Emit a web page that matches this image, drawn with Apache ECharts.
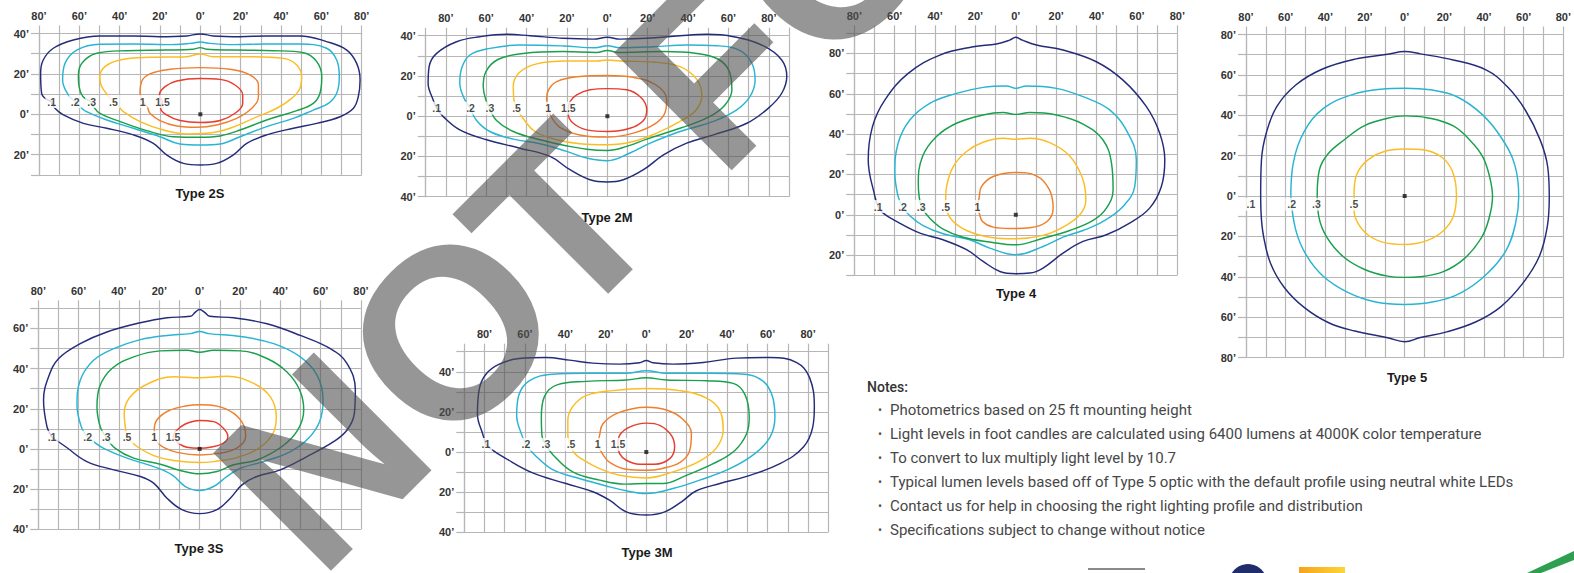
<!DOCTYPE html>
<html>
<head>
<meta charset="utf-8">
<script src="https://cdn.jsdelivr.net/npm/echarts@6/dist/echarts.min.js"></script>
<style>
  html, body { margin: 0; padding: 0; background: #ffffff; }
  #chart { width: 1574px; height: 573px; }
</style>
</head>
<body>
<div id="chart"></div>
<script>
// Iso-footcandle levels shared by every optic type
const levelNames = ['.1', '.2', '.3', '.5', '1', '1.5'];
const levelColors = ['#242c7a', '#29b4d3', '#18a04c', '#fbbd22', '#f07f2c', '#e73c2e'];

// ---- Type 2S contours (feet) ----
const type2S_01 = [[-74,6.3],[-78.7,10.4],[-79.2,20.3],[-77.9,26.9],[-72.9,32.7],[-63,36.8],[-49.8,38.8],[-33.2,38.8],[-20,38.4],[-6.8,38.8],[0,39.8],[6.4,38.8],[19.7,38.4],[32.9,38.8],[49.4,38.8],[62.6,36],[72.6,31.8],[77.5,25.2],[79.2,17],[78.3,8.7],[75.9,3],[69.3,-1.2],[57.7,-4.5],[46.1,-6.9],[32.9,-10.2],[23,-14.4],[16.4,-20.1],[8.1,-24.3],[0,-25.1],[-8.4,-24.3],[-16.7,-20.1],[-23.3,-14.4],[-33.2,-10.2],[-46.4,-6.9],[-58,-4.5],[-67.9,-0.3],[-72.1,3]];
const type2S_02 = [[-62,6.3],[-65.5,9.6],[-68.3,17],[-67.1,25.2],[-61.3,31.8],[-49.8,34.7],[-33.2,34.8],[-16.7,34.5],[-5.1,35.1],[0,35.8],[4.8,35.1],[16.4,34.5],[32.9,34.8],[49.4,34.8],[62.6,32.7],[67.6,26.9],[68.9,18.6],[67.6,10.4],[63.5,5.4],[56,2.1],[46.1,-2],[32.9,-6.1],[19.7,-11.1],[9.8,-14.7],[0,-15.2],[-10.1,-14.7],[-20,-11.1],[-33.2,-6.9],[-46.4,-2.8],[-56.4,1.3],[-59.7,3.8]];
const type2S_03 = [[-54,6.3],[-58.8,9.6],[-60.5,18.6],[-58.8,25.2],[-51.4,30.2],[-36.5,31.5],[-16.7,31.8],[-3.5,32.2],[0,33],[3.1,32.2],[16.4,31.8],[36.2,31.5],[51.1,30.5],[57.7,26.1],[60.2,18.6],[59.3,10.4],[56,5.4],[47.8,1.8],[32.9,-2.8],[19.7,-7.8],[9.8,-10.7],[0,-11.4],[-13.4,-11.1],[-26.6,-8.1],[-39.8,-3.6],[-49.8,0.5],[-53,3.8]];
const type2S_05 = [[-43,6.3],[-48.9,13.7],[-49.8,18.6],[-47.3,23.6],[-39.8,26.9],[-25,28.2],[-6.8,28.5],[0,29.9],[6.4,28.5],[24.6,28.5],[41.2,27.7],[47.8,24.4],[50.2,18.6],[49.4,12.9],[45.3,7.9],[37.9,3],[26.3,-2],[14.7,-6.9],[3.1,-9.4],[-6.8,-9.7],[-18.3,-7.8],[-29.9,-3.6],[-38.2,1.3],[-40.7,4.1]];
const type2S_10 = [[-28.6,6.3],[-29.9,10.4],[-29.1,16.2],[-25,20],[-15,22.3],[0,23.1],[14.7,22.3],[24.6,19.5],[28.8,14.5],[28.8,8.7],[25.5,3],[18,-2],[8.1,-5.3],[-1.8,-6.4],[-11.7,-5.8],[-20,-3.1],[-25,0.5],[-26.3,3.5]];
const type2S_15 = [[-18.7,6.3],[-20.3,9.6],[-17.5,13.7],[-11.7,16.5],[0,17.7],[9.8,17.3],[17.2,14.5],[21,9.6],[21,5.4],[17.2,0.5],[9.8,-3.1],[0,-4.1],[-10.1,-3.1],[-16.7,-0.3],[-19.7,3]];
const type2S_labelAt = [[-73.7,6.3],[-62.1,6.3],[-53.9,6.3],[-43.1,6.3],[-28.6,6.3],[-18.7,6.3]];

// ---- Type 2M contours ----
const type2M_01 = [[-84.6,4],[-86.3,8.1],[-88.8,16.4],[-88.3,24.6],[-84.6,31.2],[-74.7,37],[-63.1,39.5],[-49.9,40.7],[-38.3,40],[-21.8,38.7],[-6.9,38.3],[0,39.2],[6.3,38.3],[19.5,38.7],[36,40],[49.3,40.7],[62.5,39.5],[77.4,34.9],[86.4,27.9],[88.9,19.7],[86.4,11.4],[79.8,4],[69.1,-3.5],[52.6,-9.3],[39.3,-13.4],[27.8,-19.2],[17.9,-26.6],[7.9,-31.6],[0,-32.7],[-8.6,-31.6],[-18.5,-26.6],[-28.4,-20],[-43.3,-15.9],[-59.8,-11.7],[-73.1,-6.8],[-81.3,-0.2]];
const type2M_02 = [[-67.8,4],[-70.6,8.1],[-73.1,16.4],[-72.2,23.8],[-68.1,30.4],[-58.2,33.7],[-43.3,35.4],[-21.8,34.9],[-6.1,34],[0,35],[6.3,34],[22.8,34.5],[39.3,35.4],[54.2,35],[65.8,32.6],[71.6,26.3],[73.2,18],[70.7,9.8],[64.1,3.1],[52.6,-2.6],[36,-7.6],[21.2,-13.4],[11.2,-18.3],[0,-22.1],[-10.2,-20.8],[-20.2,-17.5],[-33.4,-13.7],[-46.6,-11.4],[-58.2,-7.6],[-64.8,-2.1]];
const type2M_03 = [[-58.2,4],[-60.2,8.1],[-61.5,14.7],[-60.2,22.1],[-54,28.3],[-41.7,31.2],[-21.8,32.1],[-5.3,31.7],[0,32.6],[5.5,31.7],[27.8,32.1],[44.3,31.2],[55,28.3],[60.5,22.1],[61.7,13.1],[58.3,5.6],[50.1,-0.5],[36,-6],[19.5,-11.4],[9.6,-15],[0,-17],[-10.2,-16.4],[-20.2,-14.7],[-33.4,-11.7],[-46.6,-7.6],[-54.9,-2.1]];
const type2M_05 = [[-45,4],[-46.3,8.1],[-46.6,14.7],[-43.6,21.7],[-35,26],[-20.2,27.4],[-5.3,27.4],[0,27.9],[6.3,27.4],[22.8,26.9],[36,24.6],[44.3,18.3],[46.8,10.1],[44,3.1],[36,-2.6],[24.5,-8.4],[12.9,-12.6],[0,-14.2],[-13.6,-13.7],[-25.1,-11.7],[-35.9,-7.6],[-41.3,-1.8]];
const type2M_10 = [[-29.3,4],[-30.1,8.1],[-29.3,12.7],[-25.1,17.2],[-13.6,19.7],[0,20.2],[12.9,19.3],[24.1,15.5],[29.4,8.4],[28.6,1.8],[23.6,-3.8],[12.9,-8.4],[0,-10.4],[-13.6,-9.3],[-23.5,-5.5],[-28.1,0.2]];
const type2M_15 = [[-19.3,4],[-18.5,7.3],[-15.2,10.6],[-8.6,13.1],[0,13.7],[9.6,13.1],[17,8.9],[19.5,3.1],[17.9,-2.1],[11.2,-6],[0,-7.6],[-10.2,-6.8],[-16.9,-3.5],[-19.3,0.7]];
const type2M_labelAt = [[-84.6,4],[-67.8,4],[-58.2,4],[-45,4],[-29.3,4],[-19.3,4]];

// ---- Type 4 contours ----
const type4_01 = [[-68.2,4.1],[-69.8,9.1],[-73.1,27.2],[-71,43.7],[-64.9,56.9],[-53.3,70.1],[-37.6,79.2],[-21.1,83.3],[-9.6,84.7],[-3,86.6],[0,88],[3.3,86.6],[10.2,84.2],[23.4,81.7],[39.9,75.9],[53.1,66.8],[64.7,53.6],[71.3,40.4],[73.8,27.2],[72.1,14],[66.3,3.3],[56.4,-4.1],[44.9,-9.9],[33.3,-13.2],[23.4,-19],[13.5,-26.4],[6.9,-28.9],[0,-29.2],[-7.9,-28.1],[-16.2,-23.1],[-24.4,-17.3],[-36,-12.4],[-47.5,-9.1],[-59.1,-3.3],[-65.7,0.8]];
const type4_02 = [[-56.1,4.1],[-58.3,9.1],[-59.9,20.6],[-58.3,35.5],[-52.5,47],[-42.6,55.3],[-29.4,60.2],[-16.2,63.2],[-4.6,63.9],[0,62.7],[5.3,63.9],[20.1,62.7],[33.3,58.6],[46.5,52],[55.6,40.4],[59.7,27.2],[58.9,14],[53.1,4.1],[43.2,-3.3],[33.3,-7.8],[23.4,-11.1],[13.5,-15.7],[0,-19.8],[-12.9,-16.5],[-22.8,-12.4],[-36,-9.4],[-45.9,-5.4],[-52.5,-0.5]];
const type4_03 = [[-46.9,4.1],[-47.9,9.1],[-48.3,15.7],[-46.2,28.9],[-39.3,38.8],[-29.4,45.4],[-16.2,49.5],[-6.3,50.7],[0,49.8],[6.9,50.7],[20.1,49.5],[33.3,45],[43.2,37.1],[47.4,25.6],[48.2,12.4],[44.9,3.3],[38.3,-2.8],[26.7,-7.8],[13.5,-11.6],[0,-14.9],[-12.9,-13.5],[-26.1,-11.1],[-36,-7.1],[-42.6,-1.7]];
const type4_05 = [[-34.7,4.1],[-34.7,9.1],[-34.3,14],[-31,23.9],[-24.4,31.4],[-16.2,36],[-6.3,38],[0,37.5],[6.9,38],[16.8,35.8],[26.7,29.2],[33,18.2],[34.7,7.4],[31.7,0],[23.4,-6.1],[13.5,-10.2],[0,-11.9],[-12.9,-11.1],[-24.4,-7.8],[-31.8,-2.5]];
const type4_10 = [[-19,4.1],[-18.2,8.3],[-17,14],[-11.2,19],[0,21],[10.2,19.3],[16.5,12.7],[18.5,3.3],[15.5,-3.3],[6.9,-6.4],[-3,-6.8],[-11.2,-6.1],[-16.5,-3.3],[-18,0.5]];
const type4_labelAt = [[-68.2,4.1],[-56.1,4.1],[-46.9,4.1],[-34.7,4.1],[-19,4.1]];

// ---- Type 5 contours ----
const type5_01 = [[-72.6,1.3],[-72.2,17.9],[-69.8,31.1],[-64.5,44.3],[-54.9,55],[-41.7,62.8],[-25.1,67.8],[-8.6,70.2],[0,71.6],[7.9,70.4],[24.5,67.4],[41,62.5],[51.7,54.2],[60.8,42.6],[68.3,27.8],[72.1,14.5],[72.9,-0.3],[71.9,-15.2],[67.8,-30.1],[59.5,-43.3],[48.4,-54.9],[36,-62.3],[21.2,-67.3],[7.9,-70.1],[0,-72.2],[-8.6,-70.2],[-25.1,-66.9],[-38.3,-62.8],[-50.7,-55.2],[-60.7,-45.3],[-67.6,-33.4],[-71.1,-20.2],[-72.4,-8.6]];
const type5_02 = [[-57.4,-0.3],[-56.2,16.2],[-50.7,31.9],[-40.8,43.5],[-26.8,50.1],[-11.9,52.9],[0,53.4],[12.9,52.6],[26.1,49.3],[39.3,40.2],[48.9,28.6],[55.5,15.4],[57.5,-0.3],[55.9,-13.6],[51.2,-26.8],[41.8,-38.3],[28.6,-47.9],[14.5,-52.4],[0,-53.7],[-15.2,-52.4],[-28.4,-47.9],[-40.8,-40],[-49.6,-29.3],[-54.9,-16.9]];
const type5_03 = [[-44.1,0.5],[-43,12.9],[-38.7,20.8],[-30.1,28.1],[-20.2,34.9],[-8.6,38.5],[0,39.7],[11.2,38.8],[24.5,34.7],[33.6,26.9],[39.3,19.5],[42.6,10.4],[44.3,-0.3],[42.3,-11.9],[38.5,-21],[30.2,-30.9],[19.5,-37.5],[7.9,-40],[0,-40.3],[-8.6,-39.7],[-20.2,-36.4],[-30.9,-30.1],[-39.2,-20.5],[-43.3,-10.2]];
const type5_05 = [[-25.5,1.3],[-24.3,10.4],[-18.5,17.9],[-8.6,22.5],[0,23.3],[9.9,22.8],[18.7,19.2],[24.1,12.1],[26.1,0.5],[24.5,-10.2],[19.5,-17.2],[11.2,-22.1],[0,-24],[-10.2,-23.1],[-18.5,-19.3],[-23.5,-13.6],[-25.5,-7.3]];
const type5_labelAt = [[-77.5,-4.1],[-57,-4.1],[-44.5,-4.1],[-25.6,-4.1]];

// ---- Type 3S contours ----
const type3S_01 = [[-73.2,5.8],[-75.7,11.1],[-77.4,24.3],[-74.9,35.9],[-69.9,45],[-59.2,52.4],[-46,58.2],[-29.4,62.8],[-16.2,65.3],[-4.6,66],[-2.1,68.1],[0,69.4],[2.3,68.1],[5,66],[16.9,65.3],[33.4,62.3],[49.9,56.5],[64.8,49.9],[73.1,42.5],[77.2,29.3],[76.7,17.7],[73.1,9.4],[66.4,3.6],[53.2,-3.8],[40,-10.4],[28.4,-13.7],[21,-17.9],[15.2,-24.5],[8.6,-30.2],[0,-32.2],[-8.8,-30.2],[-16.2,-24.5],[-22.8,-17],[-29.4,-13.7],[-42.6,-10.4],[-55.9,-6.3],[-66.6,1.2]];
const type3S_02 = [[-55.5,5.8],[-58.7,11.1],[-60.8,21.8],[-59.2,34.2],[-52.6,44.1],[-42.6,49.9],[-29.4,54.4],[-16.2,56.5],[-4.6,57.4],[0,58.5],[4.5,57.4],[20.2,56],[36.7,52.4],[49.9,45.8],[58.2,36.7],[61.2,24.3],[59.5,13.6],[54,5.3],[45,-1.3],[31.7,-6.3],[20.2,-9.6],[13.6,-13.7],[6.9,-18.7],[0,-20.7],[-7.1,-18.7],[-13.7,-12.9],[-22.8,-8.8],[-36,-4.6],[-47.6,0.3],[-52.6,3.6]];
const type3S_03 = [[-46.3,5.8],[-49.3,11.1],[-50.9,21],[-49.6,30.9],[-43.5,40],[-32.7,45.8],[-19.5,48.8],[-6.3,49.1],[0,48.1],[6.9,49.1],[20.2,48.8],[33.4,45],[43.3,38.3],[49.6,29.3],[51.6,19.3],[48.6,9.4],[40.8,1.2],[28.4,-5.5],[16.9,-7.9],[8.6,-11.2],[0,-12.4],[-9.6,-10.7],[-19.5,-7.6],[-32.7,-4.6],[-41.8,0.3]];
const type3S_05 = [[-36,5.8],[-36.9,11.1],[-37.4,17.7],[-34.7,25.6],[-26.1,32.2],[-12.9,35.9],[0,35.4],[13.6,36.2],[26.8,32.6],[35,26],[38,16],[36.4,7.8],[29.3,0.3],[18.5,-4.3],[6.9,-6.3],[0,-6.8],[-12.9,-5.8],[-22.8,-3.3],[-31.1,1.2]];
const type3S_10 = [[-22.5,5.8],[-22.5,9.4],[-21.2,14.4],[-15.4,19],[-6.3,21.5],[0,22],[8.6,21.3],[16.9,17.7],[21.8,11.9],[22.8,6.1],[18.8,0.7],[10.2,-2.1],[0,-3],[-11.2,-1.7],[-17.9,0.8],[-20.8,3.1]];
const type3S_15 = [[-13.2,5.8],[-12.1,8.6],[-7.1,12.4],[0,14.2],[6.9,13.6],[11.9,10.2],[14,6.1],[11.6,2.8],[5.3,0.8],[0,0.3],[-6.3,0.8],[-10.4,2.8]];
const type3S_labelAt = [[-73.2,5.8],[-55.5,5.8],[-46.3,5.8],[-36,5.8],[-22.5,5.8],[-13.2,5.8]];

// ---- Type 3M contours ----
const type3M_01 = [[-79.3,3.8],[-80.7,8.3],[-83.5,19],[-82.6,31.4],[-79.3,38.8],[-72.7,43.8],[-62.8,46.6],[-49.6,47.1],[-38,45.8],[-26.4,44.3],[-13.2,43.8],[-3.3,44.5],[0,45.6],[3.3,44.5],[13.2,43.8],[28.1,44.6],[44.6,46.8],[61.2,47.1],[74.4,44.6],[80.7,37.2],[83.1,22.3],[82.3,12.4],[77.7,2.5],[66.1,-5.8],[49.6,-12.1],[36.4,-15.7],[24.8,-19.3],[17.4,-24.8],[9.1,-29.8],[0,-31.4],[-9.9,-29.8],[-18.2,-24],[-26.4,-19.8],[-39.7,-15.7],[-56.2,-10.4],[-70.2,-2.8],[-76.4,1.2]];
const type3M_02 = [[-59.5,3.8],[-61.5,8.3],[-64.1,18.2],[-63.1,28.1],[-57.9,35.5],[-46.3,38.8],[-29.8,39.3],[-9.9,39.3],[0,40.5],[9.9,39.3],[29.8,39.3],[48.8,38.8],[57.9,35.2],[62.5,27.3],[63.6,17.4],[61.2,7.4],[53.7,-0.8],[41.3,-8.3],[26.4,-14],[13.2,-18.2],[0,-20.7],[-9.9,-19.3],[-19.8,-16.9],[-34.7,-12.7],[-46.3,-8.8],[-55.4,-1.2]];
const type3M_03 = [[-49.6,3.8],[-51.6,8.3],[-51.9,17.4],[-50.4,27.6],[-43.8,33.6],[-29.8,35.2],[-9.9,35.9],[0,37],[9.9,35.9],[29.8,35.5],[43,34.2],[48.8,28.6],[50.9,17.4],[49.6,9.1],[43.8,0.8],[33.1,-5.8],[19.8,-11.6],[8.3,-15.7],[0,-15.7],[-9.9,-16],[-23.1,-14],[-36.4,-9.9],[-46.3,-1.2]];
const type3M_05 = [[-37.2,3.8],[-38.8,8.3],[-38.8,15.7],[-36.4,22.6],[-29.8,28.1],[-16.5,30.6],[0,31.7],[16.5,30.6],[29.8,26.9],[36.4,20.7],[38,10.7],[34.7,2.1],[26.4,-4.5],[13.2,-9.9],[0,-12.9],[-13.2,-11.6],[-23.1,-8.3],[-32.2,-3.3],[-36,0]];
const type3M_10 = [[-24,3.8],[-23.1,8.3],[-21.5,14],[-14,19.5],[0,22.3],[10.7,20.7],[18.2,16.2],[22.3,9.1],[21.5,0.8],[16.9,-5],[7.4,-8.3],[0,-9.1],[-9.9,-8.6],[-17.9,-5.3],[-21.5,-1.2]];
const type3M_15 = [[-14,3.8],[-13.2,8.3],[-8.3,12.4],[0,14.4],[6.9,13.2],[12.4,8.3],[14,2.5],[11.6,-3.3],[4.1,-6.1],[-3.3,-6.1],[-9.9,-4.1],[-13.2,-0.8]];
const type3M_labelAt = [[-79.3,3.8],[-59.5,3.8],[-49.6,3.8],[-37.2,3.8],[-24,3.8],[-14,3.8]];

const noteLines = [
  'Photometrics based on 25 ft mounting height',
  'Light levels in foot candles are calculated using 6400 lumens at 4000K color temperature',
  'To convert to lux multiply light level by 10.7',
  'Typical lumen levels based off of Type 5 optic with the default profile using neutral white LEDs',
  'Contact us for help in choosing the right lighting profile and distribution',
  'Specifications subject to change without notice'
];

// Panel table: plot box in pixels, axis extents in feet, caption placement
const panels = [
  { name: 'Type 2S', box: [39, 33.5, 322.7, 141.4], x: [-80, 80], y: [-30, 40], cap: [200, 193],
    lines: [type2S_01, type2S_02, type2S_03, type2S_05, type2S_10, type2S_15], tags: type2S_labelAt },
  { name: 'Type 2M', box: [425.7, 35.7, 363.3, 161], x: [-90, 90], y: [-40, 40], cap: [607, 217],
    lines: [type2M_01, type2M_02, type2M_03, type2M_05, type2M_10, type2M_15], tags: type2M_labelAt },
  { name: 'Type 4', box: [854.3, 33.3, 323, 242], x: [-80, 80], y: [-30, 90], cap: [1016, 293],
    lines: [type4_01, type4_02, type4_03, type4_05, type4_10], tags: type4_labelAt },
  { name: 'Type 5', box: [1246, 34.5, 323, 323], x: [-80, 80], y: [-80, 80], cap: [1407, 377],
    lines: [type5_01, type5_02, type5_03, type5_05], tags: type5_labelAt },
  { name: 'Type 3S', box: [38.3, 308.3, 322.7, 221], x: [-80, 80], y: [-40, 70], cap: [199, 548],
    lines: [type3S_01, type3S_02, type3S_03, type3S_05, type3S_10, type3S_15], tags: type3S_labelAt },
  { name: 'Type 3M', box: [464.3, 351.7, 364, 180.6], x: [-90, 90], y: [-40, 50], cap: [647, 552],
    lines: [type3M_01, type3M_02, type3M_03, type3M_05, type3M_10, type3M_15], tags: type3M_labelAt }
];

const gridColor = '#b6b6b6';
const tickFont = { color: '#333', fontSize: 11, fontWeight: 'bold', fontFamily: 'Liberation Sans' };
const feet = v => (Math.round(v) % 20 === 0 ? Math.abs(Math.round(v)) + '\u2019' : '');

const grids = [], xAxes = [], yAxes = [], series = [], graphics = [];

panels.forEach((p, i) => {
  grids.push({ left: p.box[0], top: p.box[1], width: p.box[2], height: p.box[3] });
  const lineStyle = { color: gridColor, width: 1.2 };
  xAxes.push({
    gridIndex: i, type: 'value', position: 'top', min: p.x[0], max: p.x[1], interval: 10,
    axisLine: { show: true, onZero: false, lineStyle },
    axisTick: { show: true, length: 8, lineStyle },
    splitLine: { show: true, lineStyle },
    axisLabel: Object.assign({ margin: 12, formatter: feet }, tickFont)
  });
  yAxes.push({
    gridIndex: i, type: 'value', position: 'left', min: p.y[0], max: p.y[1], interval: 10,
    axisLine: { show: true, onZero: false, lineStyle },
    axisTick: { show: true, length: 8, lineStyle },
    splitLine: { show: true, lineStyle },
    axisLabel: Object.assign({ margin: 10, formatter: feet }, tickFont)
  });
  p.lines.forEach((pts, k) => {
    series.push({
      type: 'line', xAxisIndex: i, yAxisIndex: i, data: pts.concat([pts[0]]),
      smooth: 0.4, symbol: 'none', clip: false, silent: true, z: 3,
      lineStyle: { color: levelColors[k], width: 1.45 }
    });
  });
  series.push({
    type: 'scatter', xAxisIndex: i, yAxisIndex: i, silent: true, z: 5,
    data: p.tags.map((xy, k) => [xy[0], xy[1], levelNames[k]]),
    symbolSize: 1, itemStyle: { color: 'rgba(0,0,0,0)' },
    label: {
      show: true, position: 'inside', formatter: d => d.data[2],
      backgroundColor: '#ffffff', padding: [1, 2],
      color: '#1a1a1a', fontSize: 10.5, fontWeight: 'bold', fontFamily: 'Liberation Sans'
    }
  });
  series.push({
    type: 'scatter', xAxisIndex: i, yAxisIndex: i, silent: true, z: 6,
    data: [[0, 0]], symbol: 'rect', symbolSize: 4, itemStyle: { color: '#111' }
  });
  graphics.push({
    type: 'text', x: p.cap[0], y: p.cap[1], z: 10,
    style: { text: p.name, fill: '#1a1a1a', font: 'bold 13px "Liberation Sans"',
             align: 'center', verticalAlign: 'middle', textAlign: 'center', textVerticalAlign: 'middle' }
  });
});

// Notes block
graphics.push({
  type: 'text', x: 867, y: 387, z: 10,
  style: { text: 'Notes:', fill: '#333', font: '500 14px Roboto',
           align: 'left', verticalAlign: 'middle', textAlign: 'left', textVerticalAlign: 'middle' }
});
noteLines.forEach((t, k) => {
  const y = 410 + k * 24;
  graphics.push({
    type: 'text', x: 878, y: y, z: 10,
    style: { text: '\u2022', fill: '#555', font: '12px Roboto',
             align: 'left', verticalAlign: 'middle', textAlign: 'left', textVerticalAlign: 'middle' }
  });
  graphics.push({
    type: 'text', x: 890, y: y, z: 10,
    style: { text: t, fill: '#474747', font: '15px Roboto',
             align: 'left', verticalAlign: 'middle', textAlign: 'left', textVerticalAlign: 'middle' }
  });
});

// Partial badges along the bottom edge
graphics.push({ type: 'rect', z: 10, shape: { x: 1088, y: 568, width: 57, height: 2 }, style: { fill: '#8a8a8a' } });
graphics.push({ type: 'circle', z: 10, shape: { cx: 1248, cy: 583, r: 19 }, style: { fill: '#1f2d6a' } });
graphics.push({ type: 'rect', z: 10, shape: { x: 1299, y: 567, width: 46, height: 6 },
  style: { fill: { type: 'linear', x: 0, y: 0, x2: 1, y2: 0,
    colorStops: [{ offset: 0, color: '#f7a21b' }, { offset: 1, color: '#fcd535' }] } } });
graphics.push({ type: 'polygon', z: 10, shape: { points: [[1574, 551], [1574, 560], [1541, 573], [1527, 573]] },
  style: { fill: '#2e9e4f' } });

// Diagonal overlay lettering
const stamp = { fill: 'rgba(80,80,80,0.6)', font: 'bold 242px "Liberation Sans"',
  align: 'center', verticalAlign: 'middle', textAlign: 'center', textVerticalAlign: 'middle' };
[['N', 322, 461], ['O', 451, 332], ['T', 561, 222], ['F', 713, 70], ['O', 832, -49]].forEach(g => {
  graphics.push({ type: 'text', x: g[1], y: g[2], rotation: Math.PI / 4, z: 100, silent: true,
    style: Object.assign({ text: g[0] }, stamp) });
});

const chart = echarts.init(document.getElementById('chart'), null, { renderer: 'svg' });
chart.setOption({
  backgroundColor: '#ffffff',
  animation: false,
  grid: grids,
  xAxis: xAxes,
  yAxis: yAxes,
  series: series,
  graphic: { elements: graphics }
});
</script>
</body>
</html>
